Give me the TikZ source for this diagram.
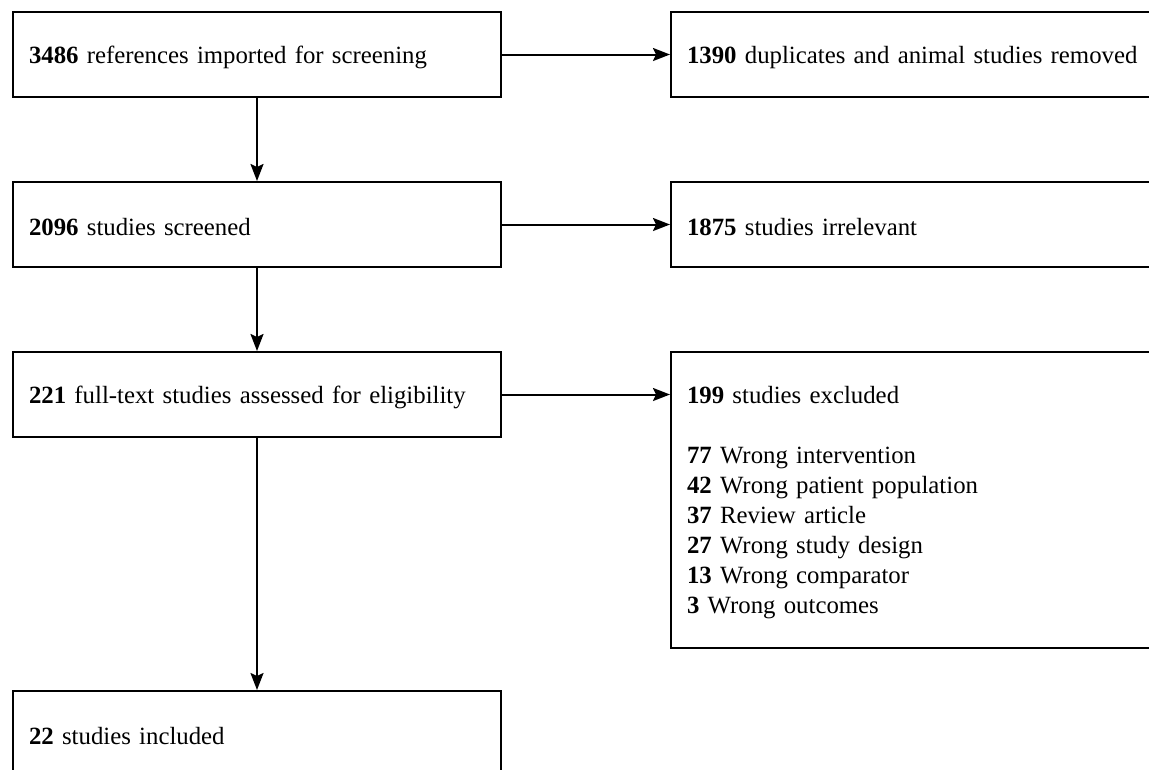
\documentclass[tikz,border=0pt]{standalone}
\usepackage{fontspec}
\setmainfont{Liberation Serif}
\usetikzlibrary{arrows.meta}
\begin{document}
\begin{tikzpicture}[x=1pt,y=-1pt,
  box/.style={draw, line width=2pt, rectangle, anchor=north west, inner xsep=16pt, inner ysep=0pt,
    minimum width=488pt, minimum height=85pt, text width=456pt, align=left,
    font=\fontsize{24.8}{30}\selectfont, execute at begin node={\rule{0pt}{23pt}}},
  flow/.style={line width=2pt, -{Stealth[length=17pt,width=13pt,inset=3pt]}}]
\useasboundingbox[fill=white] (0,0) rectangle (1149,769);
\clip (0,0) rectangle (1149,769);
\node[box] (a) at (12,11) {\textbf{3486} references imported for screening};
\node[box] (b) at (12,181) {\textbf{2096} studies screened};
\node[box] (c) at (12,351) {\textbf{221} full-text studies assessed for eligibility};
\node[box] (d) at (12,690) {\textbf{22} studies included};
\node[box] (ra) at (670,11) {\textbf{1390} duplicates and animal studies removed};
\node[box] (rb) at (670,181) {\textbf{1875} studies irrelevant};
\node[box, minimum height=296pt] (rc) at (670,351) {\textbf{199} studies excluded\\[30pt]
\textbf{77} Wrong intervention\\
\textbf{42} Wrong patient population\\
\textbf{37} Review article\\
\textbf{27} Wrong study design\\
\textbf{13} Wrong comparator\\
\textbf{3} Wrong outcomes};
\draw[flow] (a.south) -- (b.north);
\draw[flow] (b.south) -- (c.north);
\draw[flow] (c.south) -- (d.north);
\draw[flow] (a.east) -- (ra.west);
\draw[flow] (b.east) -- (rb.west);
\draw[flow] (c.east) -- (c.east-|rc.west);
\end{tikzpicture}
\end{document}
